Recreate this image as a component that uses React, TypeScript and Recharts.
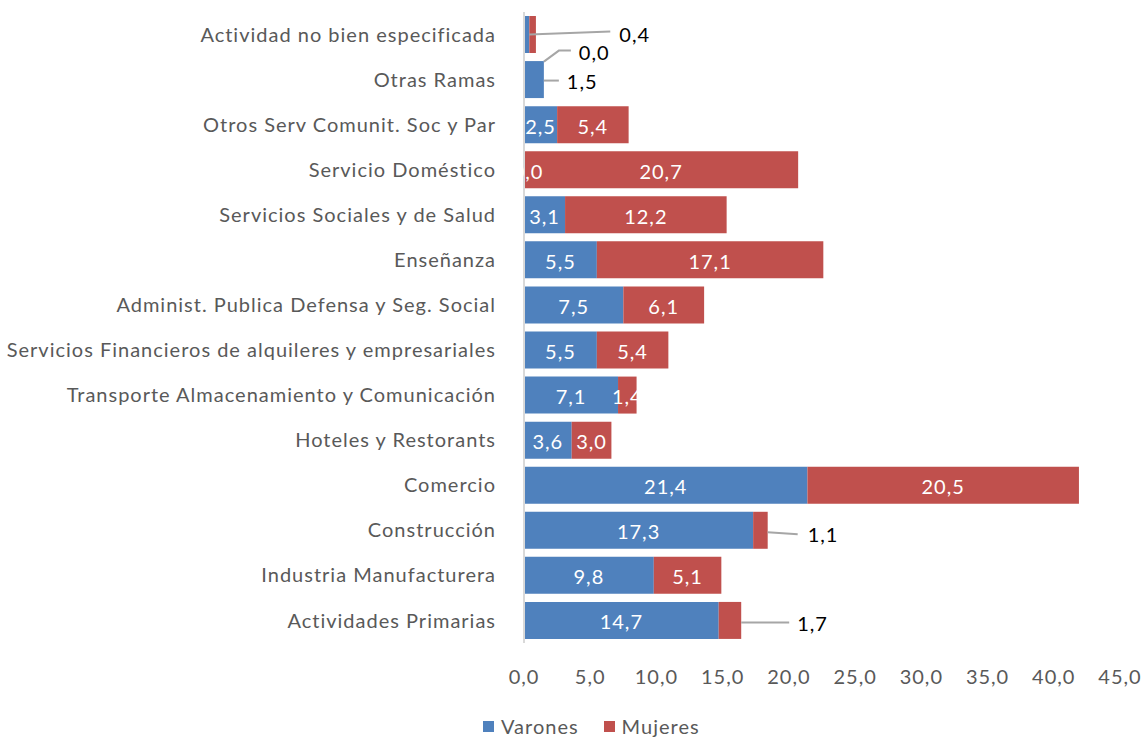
import React from "react";
import { BarChart, Bar, XAxis, YAxis, Legend, LabelList } from "recharts";

const categories = [
  "Actividad no bien especificada",
  "Otras Ramas",
  "Otros Serv Comunit. Soc y Par",
  "Servicio Doméstico",
  "Servicios Sociales y de Salud",
  "Enseñanza",
  "Administ. Publica Defensa y Seg. Social",
  "Servicios Financieros de alquileres y empresariales",
  "Transporte Almacenamiento y Comunicación",
  "Hoteles y Restorants",
  "Comercio",
  "Construcción",
  "Industria Manufacturera",
  "Actividades Primarias",
];

const varones = [0.4, 1.5, 2.5, 0.0, 3.1, 5.5, 7.5, 5.5, 7.1, 3.6, 21.4, 17.3, 9.8, 14.7];
const mujeres = [0.5, 0.0, 5.4, 20.7, 12.2, 17.1, 6.1, 5.4, 1.4, 3.0, 20.5, 1.1, 5.1, 1.7];

const xTicks = [0, 5, 10, 15, 20, 25, 30, 35, 40, 45];

const data = categories.map((name, i) => ({ name, varones: varones[i], mujeres: mujeres[i] }));

const BLUE = "#4F81BD";
const RED = "#C0504D";
const FONT = "Lato, 'Open Sans', sans-serif";
const FS = 20;
const LS = 1;
const LEADER = "#A6A6A6";

const fmt = (v: number) => v.toFixed(1).replace(".", ",");

// Excel-style callouts for labels that don't fit inside the bar
const varonesCallouts: Record<number, string> = { 0: "angled", 1: "short" };
const mujeresCallouts: Record<number, string> = { 0: "hide", 11: "right", 13: "long" };

function Callout({ pts, tx, ty, text }: { pts: string; tx: number; ty: number; text: string }) {
  return (
    <g>
      <polyline points={pts} stroke={LEADER} strokeWidth={2} fill="none" />
      <text x={tx} y={ty} fontSize={FS} letterSpacing={LS} fontFamily={FONT} fill="#000" dominantBaseline="central">
        {text}
      </text>
    </g>
  );
}

function inside(cx: number, cy: number, text: string) {
  return (
    <text x={cx} y={cy + 1} fontSize={FS} letterSpacing={LS} fontFamily={FONT} fill="#fff" textAnchor="middle" dominantBaseline="central">
      {text}
    </text>
  );
}

function makeLabel(series: "v" | "m") {
  return (props: any) => {
    const { x, y, width, height, value } = props;
    const idx = categories.indexOf(value);
    const own = series === "v" ? varones[idx] : mujeres[idx];
    const other = series === "v" ? mujeres[idx] : varones[idx];
    const cy = y + height / 2;
    const end = x + width;
    if (!own) return null;
    const text = fmt(own);
    const kind = series === "v" ? varonesCallouts[idx] : mujeresCallouts[idx];
    const parts: React.ReactNode[] = [];
    if (kind === "hide") {
      // not shown
    } else if (kind === "angled") {
      parts.push(<Callout key="c" pts={`${end},${cy} ${end + 81},${cy - 3}`} tx={end + 90} ty={cy - 1} text={text} />);
    } else if (kind === "short") {
      parts.push(<Callout key="c" pts={`${end},${cy + 1} ${end + 15},${cy + 1}`} tx={end + 23} ty={cy + 1} text={text} />);
    } else if (kind === "right") {
      parts.push(<Callout key="c" pts={`${end},${cy + 2} ${end + 30},${cy + 4}`} tx={end + 40} ty={cy + 4} text={text} />);
    } else if (kind === "long") {
      parts.push(<Callout key="c" pts={`${end},${cy + 2} ${end + 48},${cy + 2}`} tx={end + 56} ty={cy + 3} text={text} />);
    } else {
      parts.push(<g key="i">{inside(x + width / 2, cy, text)}</g>);
    }
    // zero-width partner bars are not drawn by recharts, so their labels ride along here
    if (other === 0 && series === "v") {
      parts.push(
        <Callout key="z" pts={`${end},${cy - 18} ${end + 15},${cy - 29} ${end + 27},${cy - 29}`} tx={end + 35} ty={cy - 28} text={fmt(other)} />
      );
    }
    if (other === 0 && series === "m") {
      parts.push(<g key="z">{inside(x + 4, cy, fmt(other))}</g>);
    }
    return <g>{parts}</g>;
  };
}

function LegendContent() {
  const item = (color: string, label: string, mr: number) => (
    <span style={{ display: "inline-flex", alignItems: "center", marginRight: mr }}>
      <span style={{ width: 11, height: 11, background: color, display: "inline-block", marginRight: 7 }} />
      <span>{label}</span>
    </span>
  );
  return (
    <div
      style={{
        fontFamily: FONT,
        fontSize: FS,
        letterSpacing: LS,
        color: "#595959",
        display: "flex",
        alignItems: "flex-end",
        height: 40,
        lineHeight: "24px",
      }}
    >
      {item(BLUE, "Varones", 25)}
      {item(RED, "Mujeres", 0)}
    </div>
  );
}

export default function App() {
  return (
    <div style={{ position: "absolute", left: 0, top: 0, background: "#fff" }}>
      <BarChart
        width={1146}
        height={738}
        data={data}
        layout="vertical"
        margin={{ top: 12, right: 26, left: 0, bottom: 0 }}
        barSize={37}
      >
        <XAxis
          type="number"
          domain={[0, 45]}
          ticks={xTicks}
          tickFormatter={fmt}
          axisLine={false}
          tickLine={false}
          tickMargin={21}
          height={55}
          tick={{ fontSize: FS, fill: "#595959", fontFamily: FONT, letterSpacing: LS }}
        />
        <YAxis
          type="category"
          dataKey="name"
          width={524}
          tickLine={false}
          axisLine={{ stroke: "#D9D9D9", strokeWidth: 2 }}
          tickMargin={22}
          interval={0}
          tick={{ fontSize: FS, fill: "#595959", fontFamily: FONT, letterSpacing: LS }}
        />
        <Legend
          verticalAlign="bottom"
          content={<LegendContent />}
          wrapperStyle={{ left: 483, bottom: 0, width: 260, height: 40 }}
        />
        <Bar dataKey="varones" stackId="a" fill={BLUE} isAnimationActive={false}>
          <LabelList dataKey="name" content={makeLabel("v")} />
        </Bar>
        <Bar dataKey="mujeres" stackId="a" fill={RED} isAnimationActive={false}>
          <LabelList dataKey="name" content={makeLabel("m")} />
        </Bar>
      </BarChart>
    </div>
  );
}
